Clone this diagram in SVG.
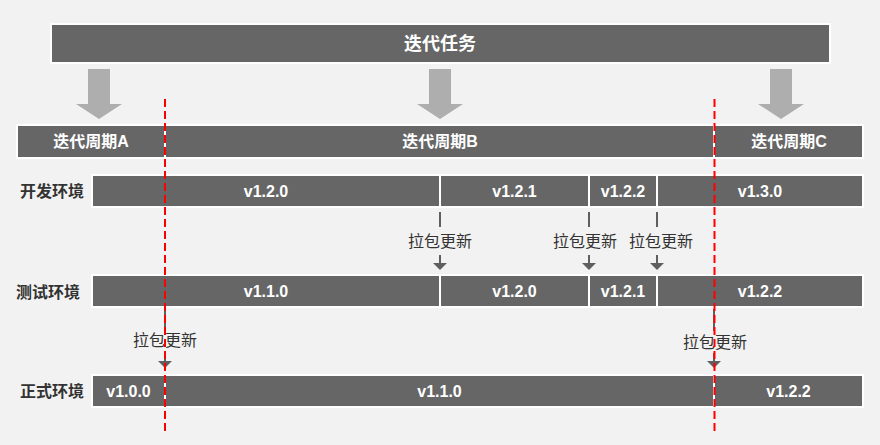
<svg xmlns="http://www.w3.org/2000/svg" width="880" height="445" viewBox="0 0 880 445">
<defs>
<style>
.bar{fill:#666666;stroke:#ffffff;stroke-width:2}
.w{fill:#ffffff;font-family:"Liberation Sans","Noto Sans CJK SC",sans-serif;font-weight:bold;font-size:16px;text-anchor:middle;dominant-baseline:central}
.lbl{fill:#333333;font-family:"Liberation Sans","Noto Sans CJK SC",sans-serif;font-weight:bold;font-size:16px;text-anchor:middle;dominant-baseline:central}
.pull{fill:#333333;font-family:"Liberation Sans","Noto Sans CJK SC",sans-serif;font-size:16px;text-anchor:middle;dominant-baseline:central}
.big{fill:#AEAEAE}
.ln{stroke:#5f5f5f;stroke-width:2;fill:none}
.hd{fill:#5f5f5f}
.red{stroke:#ff0000;stroke-width:2;stroke-dasharray:8 4;fill:none}
</style>
</defs>
<rect width="880" height="445" fill="#F2F2F2"/>
<g id="task">
<rect class="bar" x="51" y="24" width="779" height="39"/>
<text class="w" x="440" y="44" style="font-size:18px">迭代任务</text>
</g>
<g id="bigarrows">
<polygon class="big" points="88,69 110,69 110,104 122,104 99,119 76,104 88,104"/>
<polygon class="big" points="429,69 451,69 451,104 463,104 440,119 417,104 429,104"/>
<polygon class="big" points="770,69 792,69 792,104 804,104 781,119 758,104 770,104"/>
</g>
<g id="periodA"><rect class="bar" x="17" y="125" width="148" height="33"/><text class="w" x="91" y="141.5">迭代周期A</text></g>
<g id="periodB"><rect class="bar" x="165" y="125" width="549" height="33"/><text class="w" x="440" y="141.5">迭代周期B</text></g>
<g id="periodC"><rect class="bar" x="714" y="125" width="149" height="33"/><text class="w" x="789" y="141.5">迭代周期C</text></g>
<g id="labels">
<text class="lbl" x="52" y="191">开发环境</text>
<text class="lbl" x="48" y="292">测试环境</text>
<text class="lbl" x="52" y="391">正式环境</text>
</g>
<g id="dev">
<rect class="bar" x="92" y="175" width="348" height="32"/><text class="w" x="266" y="191">v1.2.0</text>
<rect class="bar" x="440" y="175" width="149" height="32"/><text class="w" x="514.5" y="191">v1.2.1</text>
<rect class="bar" x="589" y="175" width="68" height="32"/><text class="w" x="623" y="191">v1.2.2</text>
<rect class="bar" x="657" y="175" width="206" height="32"/><text class="w" x="760" y="191">v1.3.0</text>
</g>
<g id="test">
<rect class="bar" x="92" y="275" width="348" height="32"/><text class="w" x="266" y="291">v1.1.0</text>
<rect class="bar" x="440" y="275" width="149" height="32"/><text class="w" x="514.5" y="291">v1.2.0</text>
<rect class="bar" x="589" y="275" width="68" height="32"/><text class="w" x="623" y="291">v1.2.1</text>
<rect class="bar" x="657" y="275" width="206" height="32"/><text class="w" x="760" y="291">v1.2.2</text>
</g>
<g id="prod">
<rect class="bar" x="92" y="375" width="73" height="32"/><text class="w" x="128.5" y="391">v1.0.0</text>
<rect class="bar" x="165" y="375" width="549" height="32"/><text class="w" x="439.5" y="391">v1.1.0</text>
<rect class="bar" x="714" y="375" width="149" height="32"/><text class="w" x="788.5" y="391">v1.2.2</text>
</g>
<g id="connectors">
<line class="ln" x1="440" y1="212" x2="440" y2="227"/><line class="ln" x1="440" y1="255" x2="440" y2="264"/><polygon class="hd" points="433,263 447,263 440,270"/>
<line class="ln" x1="589" y1="212" x2="589" y2="227"/><line class="ln" x1="589" y1="255" x2="589" y2="264"/><polygon class="hd" points="582,263 596,263 589,270"/>
<line class="ln" x1="657" y1="212" x2="657" y2="227"/><line class="ln" x1="657" y1="255" x2="657" y2="264"/><polygon class="hd" points="650,263 664,263 657,270"/>
<line class="ln" x1="165" y1="309" x2="165" y2="329"/><line class="ln" x1="165" y1="351" x2="165" y2="362"/><polygon class="hd" points="158,361 172,361 165,368"/>
<line class="ln" x1="714" y1="309" x2="714" y2="331"/><line class="ln" x1="714" y1="353" x2="714" y2="362"/><polygon class="hd" points="707,361 721,361 714,368"/>
</g>
<g id="pulltexts">
<text class="pull" x="440" y="241.5">拉包更新</text>
<text class="pull" x="585" y="241.5">拉包更新</text>
<text class="pull" x="661" y="241.5">拉包更新</text>
<text class="pull" x="165" y="340">拉包更新</text>
<text class="pull" x="715" y="342">拉包更新</text>
</g>
<g id="redlines">
<line class="red" x1="165" y1="99" x2="165" y2="432"/>
<line class="red" x1="714.5" y1="99" x2="714.5" y2="432"/>
</g>
</svg>
